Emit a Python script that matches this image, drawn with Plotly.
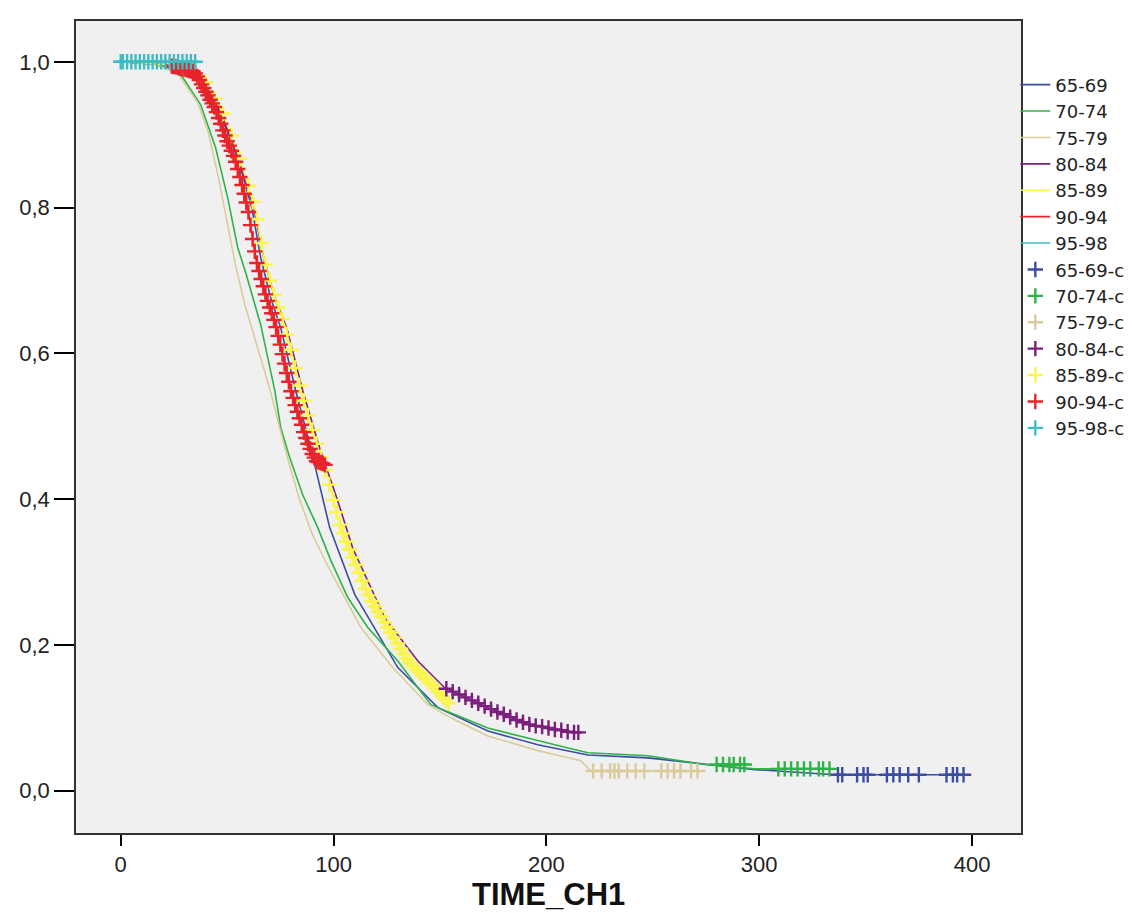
import plotly.graph_objects as go

groups = ["65-69", "70-74", "75-79", "80-84", "85-89", "90-94", "95-98"]
colors = ["#3A4DA3", "#2DB34A", "#D9CC9A", "#7B1F7D", "#F9F54A", "#E8232B", "#3DBDC1"]

# Kaplan-Meier survival curves (time, cumulative survival)
t_6569 = [0, 24.4, 36.2, 46.5, 55.0, 61.6, 65.8, 70.5, 75.2, 82.2, 89.3, 92.6, 98.2, 110.0, 124.1, 130.2, 149.0, 172.5, 196.0, 219.5, 247.7, 274.4, 297.9, 335.5, 396.6]
s_6569 = [1.0, 0.995, 0.984, 0.930, 0.868, 0.800, 0.731, 0.676, 0.635, 0.549, 0.470, 0.429, 0.361, 0.269, 0.200, 0.169, 0.114, 0.082, 0.063, 0.049, 0.045, 0.036, 0.029, 0.022, 0.022]

t_7074 = [0, 15.0, 27.7, 37.6, 44.6, 50.3, 55.0, 58.7, 65.8, 72.4, 75.2, 79.4, 85.5, 92.6, 98.7, 106.7, 116.1, 130.2, 145.7, 172.5, 204.0, 219.5, 247.7, 274.4, 297.9, 333.6]
s_7074 = [1.0, 1.0, 0.985, 0.941, 0.882, 0.813, 0.745, 0.711, 0.639, 0.549, 0.498, 0.457, 0.406, 0.361, 0.316, 0.265, 0.224, 0.178, 0.118, 0.086, 0.063, 0.052, 0.048, 0.036, 0.030, 0.030]

t_7579 = [0, 15.0, 26.8, 36.2, 41.0, 46.0, 50.0, 54.0, 58.5, 64.0, 70.0, 74.5, 79.0, 84.0, 90.0, 97.0, 112.8, 127.8, 144.3, 155.1, 172.5, 196.0, 216.2, 220.9, 271.2]
s_7579 = [1.0, 0.997, 0.984, 0.944, 0.905, 0.840, 0.780, 0.720, 0.665, 0.610, 0.552, 0.500, 0.450, 0.400, 0.352, 0.310, 0.224, 0.169, 0.118, 0.100, 0.075, 0.055, 0.041, 0.027, 0.027]

t_8084 = [0, 25.8, 37.1, 47.0, 55.5, 62.5, 67.2, 72.4, 78.0, 85.5, 93.5, 101.5, 109.0, 124.1, 139.6, 152.3, 172.5, 191.3, 213.3, 215.7]
s_8084 = [1.0, 0.995, 0.981, 0.930, 0.868, 0.800, 0.731, 0.676, 0.635, 0.549, 0.470, 0.402, 0.333, 0.237, 0.178, 0.141, 0.114, 0.091, 0.080, 0.080]

t_8589 = [0, 26.8, 38.5, 47.9, 55.9, 63.0, 67.2, 72.4, 77.5, 84.6, 92.6, 97.3, 103.4, 116.1, 125.5, 134.9, 149.0, 154.6]
s_8589 = [1.0, 0.995, 0.978, 0.930, 0.868, 0.800, 0.731, 0.676, 0.635, 0.549, 0.470, 0.429, 0.361, 0.269, 0.224, 0.178, 0.137, 0.118]

t_9094 = [0, 20.0, 22.1, 34.8, 44.2, 49.3, 53.6, 59.7, 63.4, 68.1, 72.8, 79.9, 86.9, 91.2, 96.3]
s_9094 = [1.0, 1.0, 0.995, 0.986, 0.937, 0.896, 0.868, 0.800, 0.731, 0.680, 0.639, 0.549, 0.484, 0.453, 0.447]

t_9598 = [0, 36.0]
s_9598 = [1.0, 1.0]

# Censored observations (time, survival)
ct_6569 = [337, 339, 346, 349, 351, 360, 363, 366, 370, 375, 388, 391, 393, 396]
cs_6569 = [0.022, 0.022, 0.022, 0.022, 0.022, 0.022, 0.022, 0.022, 0.022, 0.022, 0.022, 0.022, 0.022, 0.022]

ct_7074 = [280, 283, 286, 288, 291, 293, 309, 312, 315, 318, 321, 324, 328, 330, 333]
cs_7074 = [0.036, 0.036, 0.036, 0.036, 0.036, 0.036, 0.030, 0.030, 0.030, 0.030, 0.030, 0.030, 0.030, 0.030, 0.030]

ct_7579 = [222, 226, 230, 232, 234, 238, 242, 246, 254, 257, 260, 263, 268, 271]
cs_7579 = [0.027, 0.027, 0.027, 0.027, 0.027, 0.027, 0.027, 0.027, 0.027, 0.027, 0.027, 0.027, 0.027, 0.027]

ct_8084 = [153, 156, 159, 162, 165, 168, 171, 174, 177, 180, 183, 186, 189, 192, 195, 198, 201, 204, 207, 210, 213, 215]
cs_8084 = [0.140, 0.136, 0.132, 0.128, 0.124, 0.120, 0.116, 0.112, 0.108, 0.105, 0.101, 0.097, 0.094, 0.091, 0.089, 0.088, 0.086, 0.084, 0.083, 0.081, 0.080, 0.080]

ct_8589 = [40, 44, 48, 52, 56, 60, 62, 64, 66, 68, 70, 72, 74, 76, 78, 80, 82, 84, 86, 88, 90, 92, 94, 96, 98,
           100, 101.5, 103, 104.5, 106, 107.5, 109, 110.5, 112, 113.5, 115, 116.5, 118, 119.5, 121, 122.5,
           124, 125.5, 127, 128.5, 130, 131.5, 133, 134.5, 136, 137.5, 139, 140.5, 142, 143.5, 145, 146.5,
           148, 149.5, 151, 152.5, 154]
cs_8589 = [0.972, 0.950, 0.929, 0.899, 0.867, 0.830, 0.808, 0.784, 0.751, 0.722, 0.700, 0.680, 0.663, 0.647, 0.626, 0.605, 0.580, 0.556, 0.535, 0.515, 0.495, 0.476, 0.458, 0.440, 0.420,
           0.399, 0.382, 0.365, 0.353, 0.342, 0.331, 0.320, 0.310, 0.299, 0.288, 0.277, 0.268, 0.260, 0.253, 0.246, 0.239,
           0.231, 0.224, 0.217, 0.210, 0.202, 0.195, 0.187, 0.181, 0.175, 0.171, 0.166, 0.162, 0.157, 0.153, 0.149, 0.145,
           0.140, 0.135, 0.130, 0.125, 0.120]

ct_9094 = [24, 25, 26, 27, 28, 29, 30, 31, 32, 33, 34, 35, 36, 37, 38, 39, 40, 41, 42, 43, 44, 45, 46, 47, 48, 49,
           50, 51, 52, 53, 54, 55, 56, 57, 58, 59, 60, 61, 62, 63, 64, 65, 66, 67, 68, 69, 70, 71, 72, 73, 74,
           75, 76, 77, 78, 79, 80, 81, 82, 83, 84, 85, 86, 87, 88, 89, 90, 91, 92, 93, 94, 95, 96]
cs_9094 = [0.994, 0.9935, 0.993, 0.992, 0.991, 0.9905, 0.990, 0.989, 0.988, 0.9875, 0.987, 0.984, 0.980, 0.975, 0.969, 0.964, 0.959, 0.954, 0.948, 0.943, 0.938, 0.931, 0.923, 0.915, 0.906, 0.899,
           0.891, 0.885, 0.878, 0.871, 0.863, 0.853, 0.842, 0.831, 0.819, 0.807, 0.794, 0.776, 0.757, 0.740, 0.724, 0.713, 0.702, 0.692, 0.681, 0.672, 0.663, 0.655, 0.646, 0.636, 0.624,
           0.612, 0.599, 0.586, 0.573, 0.561, 0.548, 0.539, 0.529, 0.520, 0.511, 0.502, 0.492, 0.484, 0.476, 0.469, 0.462, 0.457, 0.452, 0.451, 0.450, 0.449, 0.447]

ct_9598 = [0, 1, 3, 5, 7, 9, 11, 13, 15, 17, 19, 21, 23, 25, 27, 29, 31, 33, 35]
cs_9598 = [1.0, 1.0, 1.0, 1.0, 1.0, 1.0, 1.0, 1.0, 1.0, 1.0, 1.0, 1.0, 1.0, 1.0, 1.0, 1.0, 1.0, 1.0, 1.0]

x_ticks = [0, 100, 200, 300, 400]
y_ticks = [0.0, 0.2, 0.4, 0.6, 0.8, 1.0]

curves = [(t_6569, s_6569), (t_7074, s_7074), (t_7579, s_7579), (t_8084, s_8084),
          (t_8589, s_8589), (t_9094, s_9094), (t_9598, s_9598)]
censors = [(ct_6569, cs_6569), (ct_7074, cs_7074), (ct_7579, cs_7579), (ct_8084, cs_8084),
           (ct_8589, cs_8589), (ct_9094, cs_9094), (ct_9598, cs_9598)]

fig = go.Figure()

for i in range(7):
    t, s = curves[i]
    fig.add_trace(go.Scatter(
        x=t, y=s, mode="lines", name=groups[i],
        legendrank=i + 1, line=dict(color=colors[i], width=1.6),
        hoverinfo="skip"))

cens_order = [0, 1, 2, 4, 3, 5, 6]
for i in cens_order:
    t, s = censors[i]
    fig.add_trace(go.Scatter(
        x=t, y=s, mode="markers", name=groups[i] + "-censored",
        legendrank=8 + i,
        marker=dict(symbol="cross-thin-open", size=11, color=colors[i],
                    line=dict(color=colors[i], width=2.4)),
        hoverinfo="skip"))

font_fam = "Liberation Sans, Arial, sans-serif"
axis_font = dict(family=font_fam, size=22, color="#222222")

fig.update_layout(
    width=1132, height=913,
    margin=dict(l=68, r=119, t=13, b=88, autoexpand=False),
    paper_bgcolor="white",
    plot_bgcolor="#F0F0F0",
    separators=",.",
    showlegend=True,
    legend=dict(
        x=0.994, xanchor="left", y=0.944, yanchor="top",
        bgcolor="rgba(0,0,0,0)", borderwidth=0,
        font=dict(family="DejaVu Sans, sans-serif", size=18, color="#222222"),
        traceorder="normal", itemwidth=30,
    ),
    annotations=[
        dict(text="CALV_AGE", xref="paper", yref="paper", x=1.111, y=0.967,
             xanchor="left", yanchor="middle", showarrow=False,
             font=dict(family=font_fam, size=21, color="#222222")),
        dict(text="<b>TIME_CH1</b>", xref="paper", yref="paper", x=0.5, y=-0.076,
             xanchor="center", yanchor="middle", showarrow=False,
             font=dict(family=font_fam, size=31, color="#111111")),
    ],
)

fig.update_xaxes(
    range=[-21, 423], tickvals=x_ticks, ticks="outside", ticklen=11, tickwidth=1.5,
    tickcolor="black", showline=True, linecolor="#333333", linewidth=1.5, mirror=True,
    showgrid=False, zeroline=False, tickfont=axis_font,
)
fig.update_yaxes(
    range=[-0.058, 1.056], tickvals=y_ticks, tickformat=".1f", ticks="outside", ticklen=20,
    tickwidth=1.5, tickcolor="black", showline=True, linecolor="#333333", linewidth=1.5,
    mirror=True, showgrid=False, zeroline=False, tickfont=axis_font,
)

fig.write_html("out.html")
